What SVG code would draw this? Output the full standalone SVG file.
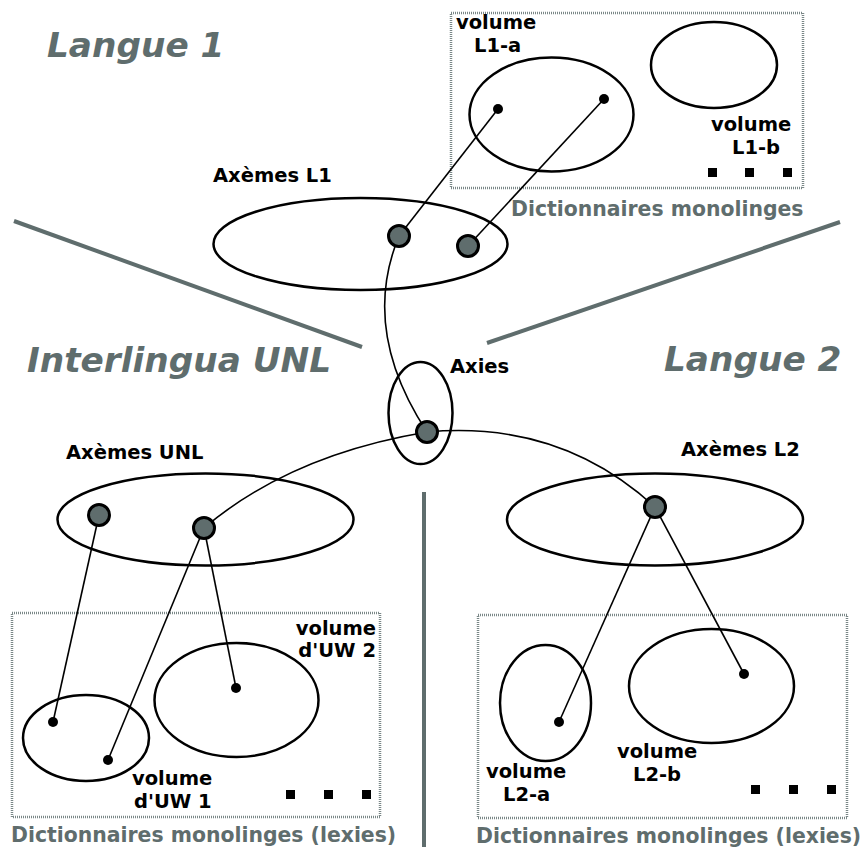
<svg xmlns="http://www.w3.org/2000/svg" width="860" height="847" viewBox="0 0 860 847">
<style>
.big{font-family:"DejaVu Sans",sans-serif;font-weight:bold;font-style:italic;font-size:34.3px;fill:#5f6d6d}
.lbl{font-family:"DejaVu Sans",sans-serif;font-weight:bold;font-size:19.5px;fill:#000}
.gl{font-family:"DejaVu Sans",sans-serif;font-weight:bold;font-size:20.4px;fill:#5f6d6d}
.ell{fill:none;stroke:#000;stroke-width:2.5}
.node{fill:#5f6d6d;stroke:#000;stroke-width:3}
.dot{fill:#000}
.sep{stroke:#5f6d6d;stroke-width:4;fill:none}
.box{fill:none;stroke:#7a8787;stroke-width:2.5;stroke-dasharray:1 1}
.con{fill:none;stroke:#000;stroke-width:1.6}
.sq{fill:#000}
</style>
<rect width="860" height="847" fill="#fff"/>
<g id="separators">
<line class="sep" x1="14" y1="221" x2="362" y2="347"/>
<line class="sep" x1="840" y1="222" x2="487" y2="343"/>
<line class="sep" x1="424" y1="492" x2="424" y2="847"/>
</g>
<g id="titles">
<text class="big" x="47" y="57">Langue 1</text>
<text class="big" x="27" y="372">Interlingua UNL</text>
<text class="big" x="664" y="371">Langue 2</text>
</g>
<g id="dict-L1">
<rect class="box" x="451" y="13" width="352" height="175"/>
<text class="gl" x="511" y="216">Dictionnaires monolinges</text>
<rect class="sq" x="708" y="168" width="9" height="9"/>
<rect class="sq" x="745" y="168" width="9" height="9"/>
<rect class="sq" x="783" y="168" width="9" height="9"/>
</g>
<g id="vol-L1-a">
<ellipse class="ell" cx="551.5" cy="114.5" rx="82" ry="57"/>
<text class="lbl" x="456" y="29">volume</text>
<text class="lbl" x="474" y="52">L1-a</text>
</g>
<g id="vol-L1-b">
<ellipse class="ell" cx="714" cy="65" rx="63" ry="43"/>
<text class="lbl" x="711" y="131">volume</text>
<text class="lbl" x="732" y="154">L1-b</text>
</g>
<g id="axemes-L1">
<ellipse class="ell" cx="360.5" cy="244" rx="147" ry="46"/>
<text class="lbl" x="213" y="182">Axèmes L1</text>
</g>
<g id="axies">
<ellipse class="ell" cx="420.5" cy="413" rx="32" ry="51"/>
<text class="lbl" x="450" y="373">Axies</text>
</g>
<g id="axemes-UNL">
<ellipse class="ell" cx="205.5" cy="519.5" rx="148" ry="46"/>
<text class="lbl" x="66" y="459">Axèmes UNL</text>
</g>
<g id="axemes-L2">
<ellipse class="ell" cx="655" cy="519.5" rx="148" ry="46"/>
<text class="lbl" x="681" y="456">Axèmes L2</text>
</g>
<g id="dict-UNL">
<rect class="box" x="12" y="613" width="368" height="204"/>
<text class="gl" x="11" y="842">Dictionnaires monolinges (lexies)</text>
<rect class="sq" x="286" y="790" width="9" height="9"/>
<rect class="sq" x="324" y="790" width="9" height="9"/>
<rect class="sq" x="362" y="790" width="9" height="9"/>
</g>
<g id="vol-UW1">
<ellipse class="ell" cx="86" cy="738" rx="63" ry="43"/>
<text class="lbl" x="132" y="785">volume</text>
<text class="lbl" x="134" y="808">d'UW 1</text>
</g>
<g id="vol-UW2">
<ellipse class="ell" cx="236.5" cy="700" rx="82" ry="57"/>
<text class="lbl" x="376" y="635" text-anchor="end">volume</text>
<text class="lbl" x="376" y="657" text-anchor="end">d'UW 2</text>
</g>
<g id="dict-L2">
<rect class="box" x="478" y="615" width="369" height="203"/>
<text class="gl" x="476" y="843">Dictionnaires monolinges (lexies)</text>
<rect class="sq" x="751" y="785" width="9" height="9"/>
<rect class="sq" x="789" y="785" width="9" height="9"/>
<rect class="sq" x="827" y="785" width="9" height="9"/>
</g>
<g id="vol-L2-a">
<ellipse class="ell" cx="545.5" cy="703" rx="45.5" ry="58"/>
<text class="lbl" x="486" y="778">volume</text>
<text class="lbl" x="503" y="801">L2-a</text>
</g>
<g id="vol-L2-b">
<ellipse class="ell" cx="711.5" cy="686" rx="82.5" ry="57"/>
<text class="lbl" x="617" y="758">volume</text>
<text class="lbl" x="633" y="781">L2-b</text>
</g>
<g id="connectors">
<line class="con" x1="399" y1="236" x2="498" y2="109"/>
<line class="con" x1="468" y1="246" x2="604" y2="99"/>
<path class="con" d="M399,236 Q360,330 427,432"/>
<path class="con" d="M427,432 Q560,420 655,507"/>
<path class="con" d="M427,432 Q290,455 204,528"/>
<line class="con" x1="99" y1="515" x2="53" y2="722"/>
<line class="con" x1="204" y1="528" x2="108" y2="760"/>
<line class="con" x1="204" y1="528" x2="236" y2="688"/>
<line class="con" x1="655" y1="507" x2="559" y2="722"/>
<line class="con" x1="655" y1="507" x2="744" y2="674"/>
</g>
<g id="points">
<circle class="dot" cx="498" cy="109" r="5"/>
<circle class="dot" cx="604" cy="99" r="5"/>
<circle class="dot" cx="53" cy="722" r="5"/>
<circle class="dot" cx="108" cy="760" r="5"/>
<circle class="dot" cx="236" cy="688" r="5"/>
<circle class="dot" cx="559" cy="722" r="5"/>
<circle class="dot" cx="744" cy="674" r="5"/>
<circle class="node" cx="399" cy="236" r="10.5"/>
<circle class="node" cx="468" cy="246" r="10.5"/>
<circle class="node" cx="427" cy="432" r="10.5"/>
<circle class="node" cx="99" cy="515" r="10.5"/>
<circle class="node" cx="204" cy="528" r="10.5"/>
<circle class="node" cx="655" cy="507" r="10.5"/>
</g>
</svg>
